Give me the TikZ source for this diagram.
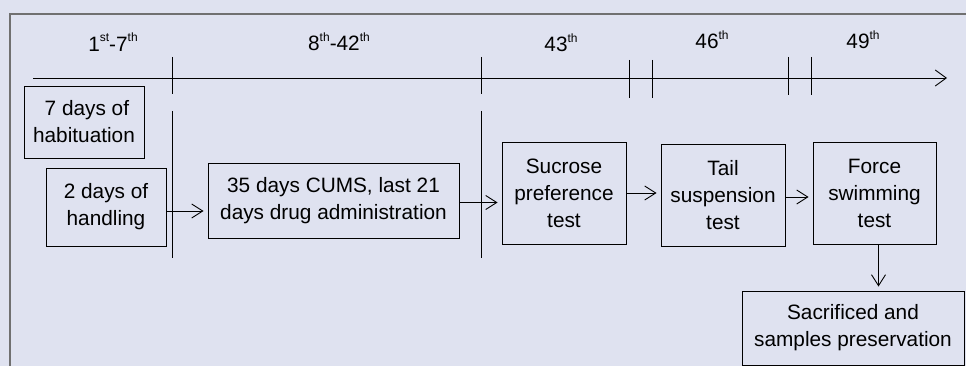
\documentclass[tikz,border=0pt]{standalone}
\usepackage{fontspec}
\setmainfont{Liberation Sans}
\usetikzlibrary{positioning, arrows.meta, calc}

\definecolor{bgcol}{RGB}{223,226,240}
\definecolor{framecol}{RGB}{112,112,112}
\newcommand{\dayth}[1]{\raisebox{0.45em}{\fontsize{12}{12}\selectfont #1}}

\begin{document}
\begin{tikzpicture}[
    x=1pt, y=-1pt,
    line width=0.9pt,
    font=\fontsize{20.8}{27}\selectfont,
    box/.style={draw, inner sep=2pt, align=center},
    lbl/.style={inner sep=0pt, anchor=center},
    arr/.style={-{Straight Barb[length=11pt,width=14pt]}, shorten >=4pt},
]
% background and outer frame
\fill[bgcol] (0,0) rectangle (966,366);
\useasboundingbox (0,0) rectangle (966,366);
\draw[framecol, line width=1.5pt] (10,366) -- (10,14) -- (966,14);

% time axis
\coordinate (tstart) at (33,78);
\coordinate (tend) at (947,78);
\draw[-{Straight Barb[length=11pt,width=16pt]}] (tstart) -- (tend);
\foreach \tx/\ta/\tb in {172/57/94, 481/57/94, 629/60/98, 652/60/98, 788/57/95, 811/57/95}
    \draw (\tx,\ta) -- (\tx,\tb);

% period labels
\node[lbl] (p1) at (113,42) {1\dayth{st}-7\dayth{th}};
\node[lbl] (p2) at (339,42) {8\dayth{th}-42\dayth{th}};
\node[lbl] (p3) at (561,43) {43\dayth{th}};
\node[lbl] (p4) at (712,40) {46\dayth{th}};
\node[lbl] (p5) at (863,40) {49\dayth{th}};

% separators
\draw (172,111) -- (172,258);
\draw (481,111) -- (481,258);

% steps
\node[box, minimum width=120pt, minimum height=72pt] (habit) at (84,122) {\ 7 days of\\habituation};
\node[box, minimum width=120pt, minimum height=78pt] (handl) at (106,207) {2 days of\\handling};
\node[box, minimum width=251pt, minimum height=75pt] (cums) at (333.5,200.5) {35 days CUMS, last 21\\days drug administration};
\node[box, minimum width=124pt, minimum height=102pt] (sucr) at (564,193) {Sucrose\\preference\\test};
\node[box, minimum width=124pt, minimum height=102pt] (tail) at (723,195) {Tail\\suspension\\test};
\node[box, minimum width=123pt, minimum height=102pt] (force) at (874.5,193) {Force\\swimming\\test};
\node[box, minimum width=222pt, minimum height=74pt] (sacr) at (853,328) {Sacrificed and\\samples preservation};

% flow
\draw[arr] ([yshift=-4pt]handl.east) -- ([yshift=-4pt]handl.east -| cums.west);
\draw[arr] ([yshift=-2pt]cums.east) -- ([yshift=-2pt]cums.east -| sucr.west);
\draw[arr] (sucr.east) -- (sucr.east -| tail.west);
\draw[arr] ([yshift=-2pt]tail.east) -- ([yshift=-2pt]tail.east -| force.west);
\draw[arr] ([xshift=4pt]force.south) -- ([xshift=4pt]force.south |- sacr.north);
\end{tikzpicture}
\end{document}
